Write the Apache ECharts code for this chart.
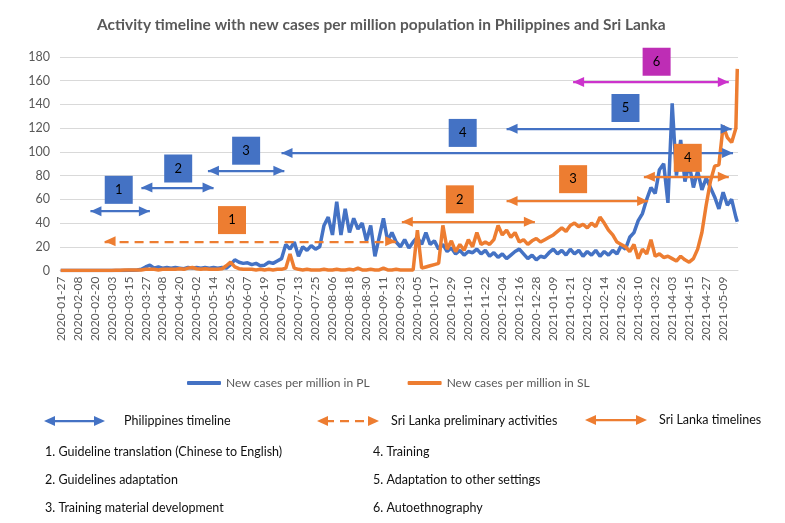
<!DOCTYPE html>
<html><head><meta charset="utf-8">
<script src="https://cdn.jsdelivr.net/npm/echarts@6/dist/echarts.min.js"></script>
<style>html,body{margin:0;padding:0;background:#fff}#c{width:785px;height:523px}</style>
</head><body><div id="c"></div>
<script>
// ---- data ----
const START_DATE = [2020, 0, 27];   // first category (2020-01-27)
const DAY_COUNT = 479;              // daily categories up to 2021-05-19
const SAMPLE_STEP = 3;              // values below are read every 3 days (last one = last day)
const seriesNames = ['New cases per million in PL', 'New cases per million in SL'];
const plValues = [
  0,0,0,0,0,0,0,0,0,0,0,0,0,0,0,0.1,0.2,0.3,0.5,1,
  3,4.5,2,3,2,2.5,2,2.5,2,1.5,2.5,2,2.5,2,2.5,2,2.5,2,2.5,2,
  5,9,7,6,6.5,5,6,4,4.5,7,6,8,10,22,18,24,12,20,17,21,
  18,20,38,45,30,58,30,52,32,44,35,40,25,38,12,28,44,25,32,24,
  20,26,19,24,28,22,32,22,25,18,22,16,19,14,17,13,16,15,18,14,
  17,12,15,11,14,10,13,16,18,14,10,13,9,12,11,15,18,14,17,13,
  18,14,17,12,16,13,17,12,16,13,17,14,21,18,28,32,42,48,60,70,
  65,85,90,57,141,80,110,75,90,70,84,68,78,70,62,52,66,55,60,45,
  41
];
const slValues = [
  0,0,0,0,0,0,0,0,0,0,0,0,0,0.3,0.3,0.5,0.5,0.5,0.5,0.5,
  1,1,1,0.5,1,1,1,1,1.5,1,2,2.5,1.5,1,1.5,1,1,1,1.5,4,
  7,3,1.5,1,1,1,0.5,1,0.5,1,0.5,1,1,2,14,2,1,0.5,1,0.5,
  0.5,0.5,1,0.5,0.5,1,0.5,0.5,1,0.5,2,0.5,0.5,1,0.5,0.5,2,0.5,0.5,1,
  0.5,0.5,0.5,0.5,34,2,3,4,5,6,38,18,25,16,22,17,26,20,32,22,
  24,22,26,38,30,34,28,32,24,26,22,25,27,24,26,28,30,33,36,33,
  38,40,37,39,36,40,37,45,40,34,30,24,22,20,16,22,10,18,14,26,
  12,14,11,12,10,8,12,9,7,10,18,32,55,75,88,89,122,112,108,120,
  170
];
const yTicks = { min: 0, max: 180, interval: 20 };
// activity timelines: [label, from, to, arrow level, box date, box level]
const plTimeline = [
  ['1', '2020-02-17', '2020-03-30', 50, '2020-03-08', 68],
  ['2', '2020-03-24', '2020-05-14', 70, '2020-04-19', 86],
  ['3', '2020-05-10', '2020-07-03', 84, '2020-06-06', 101],
  ['4', '2020-07-01', '2021-05-16', 99, '2020-11-06', 116],
  ['5', '2020-12-07', '2021-05-15', 119.5, '2021-03-01', 137]
];
const autoTimeline = [
  ['6', '2021-01-23', '2021-05-13', 159, '2021-03-23', 176]
];
const slPrelim = [
  ['1', '2020-02-27', '2020-09-20', 24.6, '2020-05-27', 42.5]
];
const slTimeline = [
  ['2', '2020-09-24', '2020-12-27', 41, '2020-11-04', 60],
  ['3', '2020-12-07', '2021-03-17', 58.6, '2021-01-23', 77],
  ['4', '2021-03-14', '2021-05-13', 79, '2021-04-14', 95]
];
const legendArrows = ['Philippines timeline', 'Sri Lanka preliminary activities', 'Sri Lanka timelines'];
const notesLeft = ['1. Guideline translation (Chinese to English)', '2. Guidelines adaptation', '3. Training material development'];
const notesRight = ['4. Training', '5. Adaptation to other settings', '6. Autoethnography'];

// ---- colours ----
const BLUE = '#4472C4', ORANGE = '#ED7D31', MAGENTA = '#CC33CC', MAGBOX = '#BE2DB5';
const FONT = 'Lato';
// arrowhead whose tip sits at the symbol centre (upper half is empty)
const ARROW_HEAD = 'path://M5,0L5,0M5,11L10,22L0,22Z';

// ---- build ----
function ds(d) { return d.toISOString().slice(0, 10); }
const categories = [];
for (let i = 0; i < DAY_COUNT; i++) categories.push(ds(new Date(Date.UTC(START_DATE[0], START_DATE[1], START_DATE[2] + i))));
function toPairs(vals) {
  return vals.map((v, k) => [categories[Math.min(k * SAMPLE_STEP, DAY_COUNT - 1)], v]);
}

const lines = [], points = [];
function addTimeline(list, color, boxColor, dashed) {
  list.forEach(t => {
    lines.push([
      { coord: [t[1], t[3]], lineStyle: { color: color, width: 2.25, type: dashed ? [9, 6] : 'solid' }, itemStyle: { color: color } },
      { coord: [t[2], t[3]] }
    ]);
    points.push({ coord: [t[4], t[5]], value: t[0], itemStyle: { color: boxColor } });
  });
}
addTimeline(plTimeline, BLUE, BLUE, false);
addTimeline(autoTimeline, MAGENTA, MAGBOX, false);
addTimeline(slPrelim, ORANGE, ORANGE, true);
addTimeline(slTimeline, ORANGE, ORANGE, false);

function arrowGroup(x1, x2, y, color, dashed) {
  return {
    type: 'group', silent: true, children: [
      { type: 'line', shape: { x1: x1 + 8, y1: y, x2: x2 - 8, y2: y }, style: { stroke: color, lineWidth: 2.25, lineDash: dashed ? [9, 6] : null } },
      { type: 'polygon', shape: { points: [[x1, y], [x1 + 11, y - 5], [x1 + 11, y + 5]] }, style: { fill: color } },
      { type: 'polygon', shape: { points: [[x2, y], [x2 - 11, y - 5], [x2 - 11, y + 5]] }, style: { fill: color } }
    ]
  };
}
function txt(s, x, y) {
  return { type: 'text', silent: true, style: { text: s, x: x, y: y, font: '12.5px ' + FONT, fill: '#111', verticalAlign: 'middle' } };
}
const graphics = [
  arrowGroup(44, 105, 421, BLUE, false),
  arrowGroup(317, 379, 421, ORANGE, true),
  arrowGroup(585, 647, 420, ORANGE, false),
  txt(legendArrows[0], 124, 421),
  txt(legendArrows[1], 391, 421),
  txt(legendArrows[2], 659, 420)
];
notesLeft.forEach((s, i) => graphics.push(txt(s, 45, 452 + i * 27.8)));
notesRight.forEach((s, i) => graphics.push(txt(s, 373, 452 + i * 27.8)));

const chart = echarts.init(document.getElementById('c'), null, { renderer: 'canvas' });
chart.setOption({
  animation: false,
  backgroundColor: '#fff',
  title: {
    text: 'Activity timeline with new cases per million population in Philippines and Sri Lanka',
    left: 92, top: 12,
    textStyle: { fontFamily: FONT, fontSize: 15.5, fontWeight: 'bold', color: '#595959' }
  },
  grid: { left: 60, right: 47, top: 57, bottom: 252.5, containLabel: false },
  legend: {
    data: seriesNames, left: 182, top: 372, itemWidth: 34, itemHeight: 4, itemGap: 38, icon: 'roundRect',
    textStyle: { fontFamily: FONT, fontSize: 12, color: '#595959' }
  },
  xAxis: {
    type: 'category', data: categories, boundaryGap: true,
    axisLine: { show: true, lineStyle: { color: '#d9d9d9' } },
    axisTick: { show: false },
    axisLabel: { interval: 11, rotate: 90, fontFamily: FONT, fontSize: 12, color: '#595959', margin: 6 },
    splitLine: { show: false }
  },
  yAxis: {
    type: 'value', min: yTicks.min, max: yTicks.max, interval: yTicks.interval,
    axisLine: { show: false }, axisTick: { show: false },
    axisLabel: { fontFamily: FONT, fontSize: 12.5, color: '#595959', margin: 10 },
    splitLine: { lineStyle: { color: '#d9d9d9', width: 1 } }
  },
  series: [
    { name: seriesNames[0], type: 'line', data: toPairs(plValues), symbol: 'none', lineStyle: { color: BLUE, width: 3.5 }, itemStyle: { color: BLUE }, z: 2 },
    { name: seriesNames[1], type: 'line', data: toPairs(slValues), symbol: 'none', lineStyle: { color: ORANGE, width: 3.5 }, itemStyle: { color: ORANGE }, z: 3 },
    {
      name: 'annotations', type: 'line', data: [], z: 5, silent: true,
      markLine: {
        silent: true, animation: false, symbol: [ARROW_HEAD, ARROW_HEAD], symbolSize: [10, 22],
        label: { show: false }, emphasis: { disabled: true }, data: lines
      },
      markPoint: {
        silent: true, animation: false, symbol: 'rect', symbolSize: [28, 28],
        label: { show: true, position: 'inside', color: '#000', fontFamily: FONT, fontSize: 13, formatter: p => p.value },
        emphasis: { disabled: true }, data: points
      }
    }
  ],
  graphic: graphics
});
</script></body></html>
